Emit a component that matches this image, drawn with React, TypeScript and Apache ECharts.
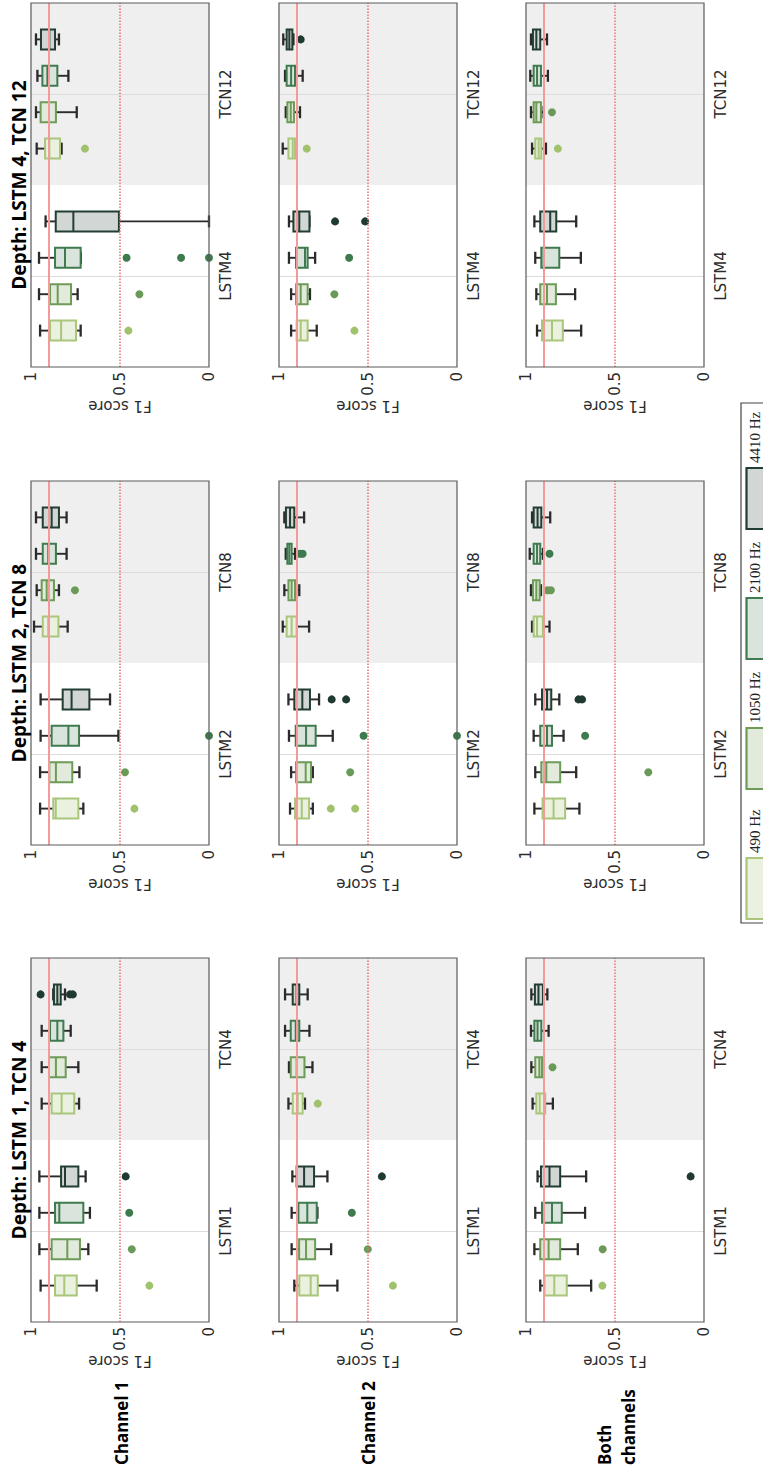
import React, { useEffect, useRef } from 'react';
import * as echarts from 'echarts';

// ---------- categories & labels ----------
const FREQ_LABELS = ['490 Hz', '1050 Hz', '2100 Hz', '4410 Hz'];
const ROW_LABELS = ['Channel 1', 'Channel 2', 'Both\nchannels'];
const DEPTH_TITLES = ['Depth: LSTM 1, TCN 4', 'Depth: LSTM 2, TCN 8', 'Depth: LSTM 4, TCN 12'];
const MODEL_CATEGORIES = [['LSTM1', 'TCN4'], ['LSTM2', 'TCN8'], ['LSTM4', 'TCN12']];
const F1_TICKS = [0, 0.5, 1];
const SOLID_REF = 0.9;
const DOTTED_REF = 0.5;

// ---------- box statistics: [low whisker, Q1, median, Q3, high whisker] ----------
// order: LSTM 490,1050,2100,4410 then TCN 490,1050,2100,4410
const ch1Depth1Boxes = [
  [0.631, 0.743, 0.813, 0.865, 0.946], [0.678, 0.725, 0.796, 0.884, 0.953],
  [0.669, 0.706, 0.841, 0.865, 0.953], [0.693, 0.734, 0.809, 0.831, 0.953],
  [0.730, 0.757, 0.828, 0.884, 0.940], [0.734, 0.805, 0.860, 0.899, 0.940],
  [0.777, 0.818, 0.852, 0.893, 0.940], [0.809, 0.833, 0.852, 0.871, 0.875],
];
const ch1Depth2Boxes = [
  [0.706, 0.734, 0.861, 0.875, 0.949], [0.728, 0.768, 0.860, 0.897, 0.949],
  [0.509, 0.730, 0.790, 0.884, 0.946], [0.556, 0.672, 0.772, 0.822, 0.946],
  [0.794, 0.846, 0.903, 0.934, 0.983], [0.843, 0.871, 0.912, 0.940, 0.968],
  [0.800, 0.860, 0.903, 0.934, 0.972], [0.800, 0.843, 0.884, 0.934, 0.972],
];
const ch1Depth4Boxes = [
  [0.721, 0.747, 0.831, 0.893, 0.949], [0.738, 0.775, 0.850, 0.893, 0.955],
  [0.720, 0.721, 0.809, 0.865, 0.955], [0.000, 0.506, 0.762, 0.861, 0.918],
  [0.828, 0.837, 0.897, 0.921, 0.968], [0.743, 0.860, 0.899, 0.946, 0.972],
  [0.790, 0.852, 0.908, 0.936, 0.964], [0.843, 0.865, 0.897, 0.944, 0.972],
];
const ch2Depth1Boxes = [
  [0.672, 0.782, 0.822, 0.886, 0.914], [0.707, 0.797, 0.848, 0.887, 0.929],
  [0.784, 0.788, 0.841, 0.891, 0.929], [0.728, 0.803, 0.859, 0.901, 0.925],
  [0.854, 0.867, 0.895, 0.923, 0.947], [0.812, 0.857, 0.901, 0.934, 0.944],
  [0.829, 0.886, 0.906, 0.934, 0.966], [0.839, 0.886, 0.901, 0.923, 0.966],
];
const ch2Depth2Boxes = [
  [0.810, 0.831, 0.872, 0.910, 0.938], [0.810, 0.820, 0.850, 0.904, 0.932],
  [0.698, 0.794, 0.848, 0.906, 0.944], [0.775, 0.826, 0.869, 0.914, 0.947],
  [0.831, 0.901, 0.929, 0.957, 0.979], [0.886, 0.910, 0.929, 0.947, 0.970],
  [0.910, 0.929, 0.942, 0.953, 0.962], [0.859, 0.914, 0.938, 0.961, 0.970],
];
const ch2Depth4Boxes = [
  [0.788, 0.839, 0.878, 0.901, 0.932], [0.826, 0.839, 0.878, 0.904, 0.932],
  [0.797, 0.839, 0.854, 0.904, 0.944], [0.829, 0.829, 0.886, 0.919, 0.944],
  [0.901, 0.910, 0.923, 0.947, 0.979], [0.882, 0.916, 0.934, 0.953, 0.962],
  [0.867, 0.910, 0.932, 0.957, 0.966], [0.919, 0.925, 0.942, 0.957, 0.976],
];
const bothDepth1Boxes = [
  [0.634, 0.771, 0.841, 0.896, 0.920], [0.709, 0.808, 0.873, 0.920, 0.953],
  [0.668, 0.799, 0.854, 0.910, 0.948], [0.662, 0.808, 0.868, 0.916, 0.935],
  [0.849, 0.892, 0.923, 0.942, 0.963], [0.901, 0.910, 0.925, 0.948, 0.970],
  [0.873, 0.914, 0.935, 0.953, 0.972], [0.880, 0.905, 0.930, 0.950, 0.970],
];
const bothDepth2Boxes = [
  [0.700, 0.780, 0.845, 0.907, 0.953], [0.718, 0.808, 0.886, 0.914, 0.948],
  [0.789, 0.854, 0.882, 0.920, 0.957], [0.813, 0.858, 0.882, 0.910, 0.948],
  [0.868, 0.905, 0.938, 0.957, 0.966], [0.916, 0.923, 0.942, 0.961, 0.972],
  [0.905, 0.920, 0.938, 0.957, 0.979], [0.864, 0.914, 0.935, 0.957, 0.966],
];
const bothDepth4Boxes = [
  [0.690, 0.793, 0.854, 0.910, 0.938], [0.724, 0.832, 0.882, 0.920, 0.942],
  [0.692, 0.813, 0.901, 0.914, 0.948], [0.718, 0.830, 0.864, 0.920, 0.953],
  [0.888, 0.914, 0.929, 0.948, 0.966], [0.901, 0.916, 0.942, 0.957, 0.972],
  [0.877, 0.916, 0.938, 0.957, 0.976], [0.882, 0.920, 0.942, 0.961, 0.972],
];

// ---------- outliers: [model index, frequency index, F1] ----------
const ch1Depth1Outliers = [[0, 0, 0.335], [0, 1, 0.434], [0, 2, 0.448], [0, 3, 0.468], [1, 3, 0.946], [1, 3, 0.781], [1, 3, 0.765]];
const ch1Depth2Outliers = [[0, 0, 0.419], [0, 1, 0.472], [0, 2, 0.0], [1, 1, 0.753]];
const ch1Depth4Outliers = [[0, 0, 0.453], [0, 1, 0.391], [0, 2, 0.463], [0, 2, 0.157], [0, 2, 0.0], [1, 0, 0.697]];
const ch2Depth1Outliers = [[0, 0, 0.360], [0, 1, 0.501], [0, 2, 0.591], [0, 3, 0.422], [1, 0, 0.782]];
const ch2Depth2Outliers = [[0, 0, 0.709], [0, 0, 0.572], [0, 1, 0.600], [0, 2, 0.525], [0, 2, 0.0], [0, 3, 0.704], [0, 3, 0.623], [1, 2, 0.882], [1, 2, 0.867]];
const ch2Depth4Outliers = [[0, 0, 0.576], [0, 1, 0.689], [0, 2, 0.606], [0, 3, 0.685], [0, 3, 0.516], [1, 0, 0.844], [1, 3, 0.878]];
const bothDepth1Outliers = [[0, 0, 0.571], [0, 1, 0.569], [0, 3, 0.075], [1, 1, 0.851]];
const bothDepth2Outliers = [[0, 1, 0.313], [0, 2, 0.668], [0, 3, 0.705], [0, 3, 0.685], [1, 1, 0.880], [1, 1, 0.860], [1, 2, 0.868]];
const bothDepth4Outliers = [[1, 0, 0.821], [1, 1, 0.854]];

const BOXES = [
  [ch1Depth1Boxes, ch1Depth2Boxes, ch1Depth4Boxes],
  [ch2Depth1Boxes, ch2Depth2Boxes, ch2Depth4Boxes],
  [bothDepth1Boxes, bothDepth2Boxes, bothDepth4Boxes],
];
const OUTLIERS = [
  [ch1Depth1Outliers, ch1Depth2Outliers, ch1Depth4Outliers],
  [ch2Depth1Outliers, ch2Depth2Outliers, ch2Depth4Outliers],
  [bothDepth1Outliers, bothDepth2Outliers, bothDepth4Outliers],
];

// ---------- styling / layout ----------
const STROKE = ['#a9c67c', '#6d9b58', '#3f7b4f', '#223e32'];
const FILL = ['#eaf1df', '#e2eadb', '#d9e4dc', '#d2d7d5'];
const DOT = ['#a0c26d', '#6a9a57', '#3d7a4d', '#1f3a2f'];
const WHISKER = '#2b2b2b';
const PANEL_X = [31, 279, 526];
const PANEL_Y = [958, 481, 3];
const PANEL_W = 178;
const PANEL_H = 364;
const ROW_LABEL_X = [121, 368, 616];
const SLOT_STEP = 0.2;
const BOX_W = 0.11;
const CAP_W = 0.066;

const slotPos = (m: number, f: number) => m + 0.5 + (f - 1.5) * SLOT_STEP;

function renderBox(params: any, api: any) {
  const y = api.value(0);
  const lo = api.value(1), q1 = api.value(2), med = api.value(3), q3 = api.value(4), hi = api.value(5);
  const f = api.value(6);
  const bw = api.size([0, BOX_W])[1];
  const cw = api.size([0, CAP_W])[1];
  const pLo = api.coord([lo, y]);
  const pQ1 = api.coord([q1, y]);
  const pMed = api.coord([med, y]);
  const pQ3 = api.coord([q3, y]);
  const pHi = api.coord([hi, y]);
  const cy = pLo[1];
  const wStyle = { stroke: WHISKER, lineWidth: 1.9 };
  const xa = Math.min(pQ1[0], pQ3[0]);
  const xb = Math.max(pQ1[0], pQ3[0]);
  return {
    type: 'group',
    children: [
      { type: 'line', shape: { x1: pHi[0], y1: cy, x2: pQ3[0], y2: cy }, style: wStyle },
      { type: 'line', shape: { x1: pQ1[0], y1: cy, x2: pLo[0], y2: cy }, style: wStyle },
      { type: 'line', shape: { x1: pHi[0], y1: cy - cw / 2, x2: pHi[0], y2: cy + cw / 2 }, style: { stroke: WHISKER, lineWidth: 2.3 } },
      { type: 'line', shape: { x1: pLo[0], y1: cy - cw / 2, x2: pLo[0], y2: cy + cw / 2 }, style: { stroke: WHISKER, lineWidth: 2.3 } },
      { type: 'rect', shape: { x: xa, y: cy - bw / 2, width: xb - xa, height: bw }, style: { fill: FILL[f], stroke: STROKE[f], lineWidth: 2 } },
      { type: 'line', shape: { x1: pMed[0], y1: cy - bw / 2, x2: pMed[0], y2: cy + bw / 2 }, style: { stroke: STROKE[f], lineWidth: 2 } },
    ],
  };
}

function buildOption() {
  const grid: any[] = [];
  const xAxis: any[] = [];
  const yAxis: any[] = [];
  const series: any[] = [];
  const elements: any[] = [];

  for (let r = 0; r < 3; r++) {
    for (let d = 0; d < 3; d++) {
      const gi = r * 3 + d;
      const cats = MODEL_CATEGORIES[d];
      grid.push({ left: PANEL_X[r], top: PANEL_Y[d], width: PANEL_W, height: PANEL_H, show: false });
      xAxis.push({
        gridIndex: gi, type: 'value', min: F1_TICKS[0], max: F1_TICKS[2], interval: 0.5, inverse: true, position: 'bottom',
        axisLine: { show: false }, axisTick: { show: false }, splitLine: { show: false },
        axisLabel: {
          rotate: 90, margin: 5, fontSize: 15, fontFamily: 'DejaVu Sans', color: '#2b2b2b',
          formatter: (v: number) => (v === 0.5 ? '0.5' : String(v)),
        },
      });
      yAxis.push({
        gridIndex: gi, type: 'value', min: 0, max: 2, interval: 0.5, position: 'right',
        axisLine: { show: false },
        axisTick: { show: true, inside: true, length: 4, customValues: [0.5, 1.5], lineStyle: { color: '#555', width: 1 } },
        splitLine: { show: false },
        axisLabel: {
          customValues: [0.5, 1.5], rotate: 90, margin: 9, fontSize: 15, fontFamily: 'DejaVu Sans', color: '#2b2b2b',
          formatter: (v: number) => (v === 0.5 ? cats[0] : v === 1.5 ? cats[1] : ''),
        },
      });
      // background: shaded TCN half + category grid lines
      series.push({
        type: 'line', xAxisIndex: gi, yAxisIndex: gi, data: [], z: 1, silent: true,
        markArea: { silent: true, itemStyle: { color: '#efefef' }, data: [[{ yAxis: 1 }, { yAxis: 2 }]] },
        markLine: {
          silent: true, symbol: ['none', 'none'], label: { show: false },
          lineStyle: { color: '#dcdcdc', width: 1, type: 'solid' },
          data: [{ yAxis: 0.5 }, { yAxis: 1.5 }],
        },
      });
      // boxes
      const boxData = BOXES[r][d].map((b, i) => {
        const m = Math.floor(i / 4);
        const f = i % 4;
        return [slotPos(m, f), b[0], b[1], b[2], b[3], b[4], f];
      });
      series.push({
        type: 'custom', xAxisIndex: gi, yAxisIndex: gi, z: 3, silent: true,
        encode: { x: [1, 2, 3, 4, 5], y: 0 }, data: boxData, renderItem: renderBox,
      });
      // outliers
      series.push({
        type: 'scatter', xAxisIndex: gi, yAxisIndex: gi, z: 4, silent: true, symbolSize: 8,
        data: OUTLIERS[r][d].map(([m, f, v]) => ({ value: [v, slotPos(m, f)], itemStyle: { color: DOT[f], opacity: 1 } })),
      });
      // reference lines
      series.push({
        type: 'line', xAxisIndex: gi, yAxisIndex: gi, data: [], z: 10, silent: true,
        markLine: {
          silent: true, symbol: ['none', 'none'], label: { show: false },
          data: [
            { xAxis: SOLID_REF, lineStyle: { color: '#f59a9a', width: 2, type: 'solid' } },
            { xAxis: DOTTED_REF, lineStyle: { color: '#ec7373', width: 1.5, type: 'dotted' } },
          ],
        },
      });
      // frame
      elements.push({
        type: 'rect', z: 100, silent: true,
        shape: { x: PANEL_X[r], y: PANEL_Y[d], width: PANEL_W, height: PANEL_H },
        style: { fill: 'none', stroke: '#5a5a5a', lineWidth: 1.2 },
      });
      // axis name
      elements.push({
        type: 'text', z: 100, silent: true,
        x: PANEL_X[r] + PANEL_W / 2, y: PANEL_Y[d] + PANEL_H + 39, rotation: Math.PI,
        style: {
          text: 'F1 score', font: '15px "DejaVu Sans"', fill: '#2b2b2b',
          align: 'center', verticalAlign: 'middle', textAlign: 'center', textVerticalAlign: 'middle',
        },
      });
    }
  }

  // column titles (depth)
  DEPTH_TITLES.forEach((t, d) => {
    elements.push({
      type: 'text', z: 100, silent: true, x: 19, y: PANEL_Y[d] + PANEL_H / 2, rotation: Math.PI / 2,
      style: {
        text: t, font: 'bold 19px "Noto Sans"', fill: '#000',
        align: 'center', verticalAlign: 'middle', textAlign: 'center', textVerticalAlign: 'middle',
      },
    });
  });
  // row labels
  ROW_LABELS.forEach((t, r) => {
    elements.push({
      type: 'text', z: 100, silent: true, x: ROW_LABEL_X[r], y: 1465, rotation: Math.PI / 2,
      style: {
        text: t, font: 'bold 17px "Noto Sans"', fill: '#000', lineHeight: 24,
        align: 'left', verticalAlign: 'middle', textAlign: 'left', textVerticalAlign: 'middle',
      },
    });
  });
  // legend
  elements.push({
    type: 'rect', z: 100, silent: true,
    shape: { x: 741, y: 403, width: 40, height: 520 },
    style: { fill: '#fff', stroke: '#444', lineWidth: 1.2 },
  });
  FREQ_LABELS.forEach((t, f) => {
    const top = 858 - f * 130;
    elements.push({
      type: 'rect', z: 101, silent: true,
      shape: { x: 746.5, y: top, width: 30, height: 61 },
      style: { fill: FILL[f], stroke: STROKE[f], lineWidth: 2.2 },
    });
    elements.push({
      type: 'text', z: 101, silent: true, x: 755, y: top - 5, rotation: Math.PI / 2,
      style: {
        text: t, font: '15px "Liberation Serif"', fill: '#222',
        align: 'left', verticalAlign: 'middle', textAlign: 'left', textVerticalAlign: 'middle',
      },
    });
  });

  return {
    animation: false,
    backgroundColor: '#ffffff',
    grid, xAxis, yAxis, series,
    graphic: { elements },
  };
}

export default function App() {
  const ref = useRef<HTMLDivElement>(null);
  useEffect(() => {
    if (!ref.current) return;
    const chart = echarts.init(ref.current, null, { renderer: 'svg' });
    chart.setOption(buildOption() as any);
    return () => chart.dispose();
  }, []);
  return (
    <div
      ref={ref}
      style={{ position: 'absolute', left: 0, top: 0, width: 763, height: 1474, background: '#fff' }}
    />
  );
}
